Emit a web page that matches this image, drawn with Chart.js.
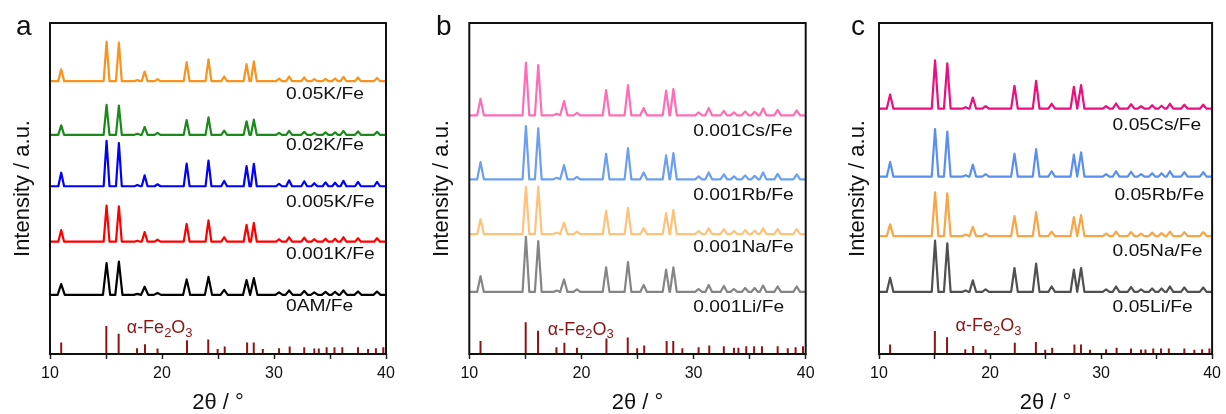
<!DOCTYPE html>
<html>
<head>
<meta charset="utf-8">
<script src="https://cdn.jsdelivr.net/npm/chart.js@4.4.0/dist/chart.umd.min.js"></script>
<style>
  body { margin: 0; background: #fff; width: 1226px; height: 414px; position: relative; overflow: hidden; }
  .panel { position: absolute; top: 0; height: 414px; }
</style>
</head>
<body>
<div class="panel" style="left:0;width:410px"><canvas id="chartA"></canvas></div>
<div class="panel" style="left:420px;width:410px"><canvas id="chartB"></canvas></div>
<div class="panel" style="left:840px;width:386px"><canvas id="chartC"></canvas></div>
<script>
// peak positions (2theta, deg) shared by all measured patterns
const twoTheta = [11.0, 15.05, 16.15, 17.8, 18.45, 19.6, 22.2, 24.15, 25.55, 27.55, 28.2, 30.45, 31.35, 32.7, 33.6, 34.6, 35.45, 36.2, 37.5, 39.2];

// alpha-Fe2O3 reference sticks: position and relative intensity
const refPos = [11.0, 15.03, 16.13, 17.77, 18.48, 19.6, 22.23, 24.13, 24.97, 25.6, 27.6, 28.19, 29.0, 30.45, 31.4, 32.7, 33.6, 34.0, 34.7, 35.4, 36.1, 37.5, 38.4, 39.1, 39.76];
const refInt = [41, 100, 73, 21, 35, 20, 49, 52, 18, 27, 41, 41, 18, 21, 27, 24, 20, 20, 24, 24, 24, 24, 18, 21, 24];

// panel a - K loading (peak heights above each baseline, a.u.)
const labelsA = ['0.05K/Fe', '0.02K/Fe', '0.005K/Fe', '0.001K/Fe', '0AM/Fe'];
const baseA = [277, 222.5, 170.3, 114, 60];
const k005 = [12, 40, 39, 1, 9.7, 2, 19.3, 22, 4.7, 17.3, 20, 2.5, 4.7, 3.7, 2, 2.2, 2.7, 4.3, 3.7, 3.3];
const k002 = [9.7, 30.3, 29.7, 1, 8, 2, 15, 17.7, 4.3, 13.7, 15.3, 2, 4, 3, 2, 2.5, 2.5, 4, 3.5, 3];
const k0005 = [13.7, 46, 43.7, 1.2, 11, 2, 23, 26, 5.4, 20.4, 22.7, 2.5, 6, 5, 3, 4, 3.5, 5.5, 4.5, 4.5];
const k0001 = [11.7, 36.7, 36, 1, 9.7, 2, 18, 21.7, 4.5, 17, 19, 2.5, 4.5, 4, 2.5, 3, 3, 4.5, 3.5, 3.5];
const am0 = [11, 32.3, 33.7, 1, 8.3, 2, 15.7, 18.3, 5, 15, 17, 2.5, 4.5, 4, 2.5, 3, 3, 4.5, 3.5, 3.5];

// panel b - 0.001 alkali/Fe
const labelsB = ['0.001Cs/Fe', '0.001Rb/Fe', '0.001Na/Fe', '0.001Li/Fe'];
const baseB = [242.3, 177.3, 121.7, 63];
const cs0001 = [16.7, 53.4, 51, 1.5, 14.4, 2.5, 25.7, 30.7, 7.4, 25, 26.7, 3, 7.4, 4.4, 3, 4, 3.5, 7, 5.5, 5];
const rb0001 = [17.4, 54, 51.7, 1.5, 14.4, 2.5, 26, 31.7, 7, 24.4, 26.7, 3, 7, 5, 3, 4, 3.5, 7, 5.5, 5];
const na0001 = [15, 48, 48.3, 1.5, 11.6, 2.5, 23.6, 26.6, 6, 21.3, 24.6, 3, 6, 5, 3, 4, 3.5, 6, 5, 5];
const li0001 = [16, 56, 51.7, 1.5, 12.7, 2.5, 25, 30.3, 7, 22.7, 25, 3, 7, 6, 3, 4, 4, 6.5, 5.5, 5.5];

// panel c - 0.05 alkali/Fe
const labelsC = ['0.05Cs/Fe', '0.05Rb/Fe', '0.05Na/Fe', '0.05Li/Fe'];
const baseC = [249, 180, 119.7, 63];
const cs005 = [14.3, 49, 46, 1.5, 11.3, 2.5, 23.3, 28.3, 5, 22.3, 24, 2.5, 5.3, 4.5, 2.5, 3.5, 3, 5, 4, 4];
const rb005 = [15, 48.3, 45.7, 1.5, 12.3, 2.5, 23.3, 28, 5.5, 22.3, 24.7, 2.5, 5.5, 5, 2.5, 3.5, 3.5, 5.5, 4.5, 4.5];
const na005 = [12, 44.3, 43.3, 1.5, 9.3, 2.5, 20.3, 24.3, 4.5, 19.3, 21.3, 2.5, 4.5, 4, 2.5, 3.5, 3, 4.5, 4, 4];
const li005 = [14.3, 52, 49.3, 1.5, 11.7, 2.5, 24.3, 28.7, 5.5, 22.7, 24.3, 2.5, 5.5, 5, 2.5, 3.5, 3.5, 5.5, 4.5, 4.5];

const FONT = '"Liberation Sans", Arial, Helvetica, sans-serif';
Chart.defaults.font.family = FONT;
Chart.defaults.color = '#111';

// baseline -> peak top -> baseline for every reflection
function pattern(base, heights, hw) {
  const pts = [{ x: 10, y: base }];
  twoTheta.forEach((p, i) => {
    pts.push({ x: p - hw, y: base }, { x: p, y: base + heights[i] }, { x: p + hw, y: base });
  });
  pts.push({ x: 40, y: base });
  return pts;
}

// vertical sticks, separated by gaps
function sticks(scale) {
  const pts = [];
  refPos.forEach((p, i) => {
    pts.push({ x: p, y: 0 }, { x: p, y: refInt[i] * scale }, { x: p, y: null });
  });
  return pts;
}

// frame, panel letter, sample labels and the reference label
const annotate = {
  id: 'annotate',
  afterDraw(chart, args, opts) {
    const { ctx, chartArea: a, scales: { x, y } } = chart;
    ctx.save();
    ctx.strokeStyle = '#111';
    ctx.lineWidth = 2;
    ctx.strokeRect(a.left, a.top, a.right - a.left, a.bottom - a.top);

    ctx.fillStyle = '#111';
    ctx.textAlign = 'left';
    ctx.textBaseline = 'alphabetic';
    ctx.font = '28px ' + FONT;
    ctx.fillText(opts.letter, opts.letterX, 35);

    ctx.textBaseline = 'middle';
    ctx.font = '17px ' + FONT;
    opts.labels.forEach((lab) => {
      ctx.save();
      ctx.translate(x.getPixelForValue(lab[1]), y.getPixelForValue(lab[2]));
      ctx.scale(1.13, 1);
      ctx.fillText(lab[0], 0, 0);
      ctx.restore();
    });

    // alpha-Fe2O3 with subscripts
    ctx.fillStyle = '#8b1414';
    let px = x.getPixelForValue(opts.ref[0]);
    const py = y.getPixelForValue(opts.ref[1]);
    const parts = [['α-Fe', 0], ['2', 1], ['O', 0], ['3', 1]];
    parts.forEach(([t, sub]) => {
      ctx.font = (sub ? '13px ' : '18px ') + FONT;
      ctx.fillText(t, px, py + (sub ? 5 : 0));
      px += ctx.measureText(t).width;
    });
    ctx.restore();
  }
};

function makeChart(id, series, colors, stickScale, layout) {
  const datasets = series.map((pts, i) => ({
    data: pts,
    borderColor: colors[i],
    borderWidth: 2.2,
    borderJoinStyle: 'round',
    pointRadius: 0,
    tension: 0,
    fill: false
  }));
  datasets.push({
    data: sticks(stickScale),
    borderColor: '#8b1414',
    borderWidth: 2,
    pointRadius: 0,
    spanGaps: false,
    fill: false
  });

  return new Chart(document.getElementById(id), {
    type: 'line',
    data: { datasets: datasets },
    options: {
      responsive: true,
      maintainAspectRatio: false,
      animation: false,
      events: [],
      layout: { padding: { left: 0, right: layout.right, top: 23, bottom: 0 } },
      plugins: {
        legend: { display: false },
        tooltip: { enabled: false },
        annotate: layout.annotate
      },
      scales: {
        x: {
          type: 'linear',
          min: 10,
          max: 40,
          offset: false,
          border: { display: false },
          grid: { drawOnChartArea: false, drawTicks: true, tickLength: 5, tickColor: '#222', tickWidth: 1.5 },
          ticks: {
            stepSize: 5,
            padding: 5,
            color: '#111',
            font: { size: 16 },
            maxRotation: 0,
            callback: (v) => (v % 10 === 0 ? v : '')
          },
          title: {
            display: true,
            text: '2θ / °',
            color: '#111',
            font: { size: 22, lineHeight: 1 },
            padding: { top: 3.8, bottom: 0 }
          }
        },
        y: {
          type: 'linear',
          min: 0,
          max: 336,
          border: { display: false },
          grid: { display: false, drawTicks: false },
          ticks: { display: false },
          title: {
            display: true,
            text: 'Intensity / a.u.',
            color: '#111',
            font: { size: 22, lineHeight: 1 },
            padding: layout.titlePad
          }
        }
      }
    },
    plugins: [annotate]
  });
}

makeChart('chartA',
  [pattern(baseA[0], k005, 0.26), pattern(baseA[1], k002, 0.26), pattern(baseA[2], k0005, 0.26),
   pattern(baseA[3], k0001, 0.26), pattern(baseA[4], am0, 0.32)],
  ['#f7931e', '#1a8a1a', '#0000ff', '#ff0000', '#000000'], 0.283,
  {
    right: 24,
    titlePad: { top: 12, bottom: 16 },
    annotate: {
      letter: 'a', letterX: 16,
      labels: [[labelsA[0], 31.07, 263.3], [labelsA[1], 31.07, 212], [labelsA[2], 31.07, 154],
               [labelsA[3], 31.07, 101], [labelsA[4], 31.07, 48.3]],
      ref: [16.85, 26]
    }
  });

makeChart('chartB',
  [pattern(baseB[0], cs0001, 0.3), pattern(baseB[1], rb0001, 0.3),
   pattern(baseB[2], na0001, 0.3), pattern(baseB[3], li0001, 0.3)],
  ['#ff6eb4', '#6c9ff0', '#ffc27a', '#858585'], 0.323,
  {
    right: 24.3,
    titlePad: { top: 11, bottom: 16.3 },
    annotate: {
      letter: 'b', letterX: 16,
      labels: [[labelsB[0], 29.98, 226.3], [labelsB[1], 29.98, 161.3], [labelsB[2], 29.98, 108],
               [labelsB[3], 29.98, 47.3]],
      ref: [17.0, 24.7]
    }
  });

makeChart('chartC',
  [pattern(baseC[0], cs005, 0.3), pattern(baseC[1], rb005, 0.3),
   pattern(baseC[2], na005, 0.3), pattern(baseC[3], li005, 0.3)],
  ['#ea0f7f', '#5a8ff0', '#f8a545', '#505050'], 0.233,
  {
    right: 12,
    titlePad: { top: 7, bottom: 10 },
    annotate: {
      letter: 'c', letterX: 11,
      labels: [[labelsC[0], 31.04, 232.3], [labelsC[1], 31.2, 161.3], [labelsC[2], 31.04, 104],
               [labelsC[3], 31.04, 47.3]],
      ref: [16.9, 28]
    }
  });
</script>
</body>
</html>
